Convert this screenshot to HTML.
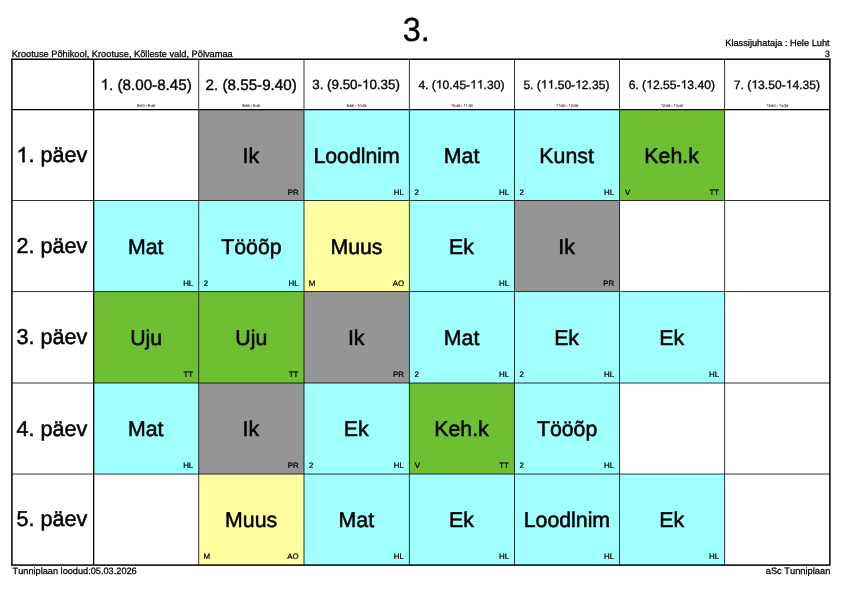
<!DOCTYPE html><html><head><meta charset="utf-8"><title>3.</title><style>html,body{margin:0;padding:0;background:#fff;width:841px;height:595px;overflow:hidden}svg{display:block;will-change:transform}text{font-family:"Liberation Sans",sans-serif;fill:#000;text-rendering:geometricPrecision;font-kerning:none}</style></head><body>
<svg width="841" height="595" viewBox="0 0 841 595">
<rect x="198.70" y="109.60" width="105.30" height="90.90" fill="#959595"/>
<rect x="304.00" y="109.60" width="105.40" height="90.90" fill="#a0ffff"/>
<rect x="409.40" y="109.60" width="105.10" height="90.90" fill="#a0ffff"/>
<rect x="514.50" y="109.60" width="105.00" height="90.90" fill="#a0ffff"/>
<rect x="619.50" y="109.60" width="105.10" height="90.90" fill="#6ebf32"/>
<rect x="93.65" y="200.50" width="105.05" height="91.05" fill="#a0ffff"/>
<rect x="198.70" y="200.50" width="105.30" height="91.05" fill="#a0ffff"/>
<rect x="304.00" y="200.50" width="105.40" height="91.05" fill="#ffffa0"/>
<rect x="409.40" y="200.50" width="105.10" height="91.05" fill="#a0ffff"/>
<rect x="514.50" y="200.50" width="105.00" height="91.05" fill="#959595"/>
<rect x="93.65" y="291.55" width="105.05" height="91.45" fill="#6ebf32"/>
<rect x="198.70" y="291.55" width="105.30" height="91.45" fill="#6ebf32"/>
<rect x="304.00" y="291.55" width="105.40" height="91.45" fill="#959595"/>
<rect x="409.40" y="291.55" width="105.10" height="91.45" fill="#a0ffff"/>
<rect x="514.50" y="291.55" width="105.00" height="91.45" fill="#a0ffff"/>
<rect x="619.50" y="291.55" width="105.10" height="91.45" fill="#a0ffff"/>
<rect x="93.65" y="383.00" width="105.05" height="91.05" fill="#a0ffff"/>
<rect x="198.70" y="383.00" width="105.30" height="91.05" fill="#959595"/>
<rect x="304.00" y="383.00" width="105.40" height="91.05" fill="#a0ffff"/>
<rect x="409.40" y="383.00" width="105.10" height="91.05" fill="#6ebf32"/>
<rect x="514.50" y="383.00" width="105.00" height="91.05" fill="#a0ffff"/>
<rect x="198.70" y="474.05" width="105.30" height="91.05" fill="#ffffa0"/>
<rect x="304.00" y="474.05" width="105.40" height="91.05" fill="#a0ffff"/>
<rect x="409.40" y="474.05" width="105.10" height="91.05" fill="#a0ffff"/>
<rect x="514.50" y="474.05" width="105.00" height="91.05" fill="#a0ffff"/>
<rect x="619.50" y="474.05" width="105.10" height="91.05" fill="#a0ffff"/>
<line x1="198.70" y1="59.25" x2="198.70" y2="565.10" stroke="#000" stroke-width="0.8"/>
<line x1="304.00" y1="59.25" x2="304.00" y2="565.10" stroke="#000" stroke-width="0.8"/>
<line x1="409.40" y1="59.25" x2="409.40" y2="565.10" stroke="#000" stroke-width="0.8"/>
<line x1="514.50" y1="59.25" x2="514.50" y2="565.10" stroke="#000" stroke-width="0.8"/>
<line x1="619.50" y1="59.25" x2="619.50" y2="565.10" stroke="#000" stroke-width="0.8"/>
<line x1="724.60" y1="59.25" x2="724.60" y2="565.10" stroke="#000" stroke-width="0.8"/>
<line x1="11.90" y1="200.50" x2="829.90" y2="200.50" stroke="#000" stroke-width="0.8"/>
<line x1="11.90" y1="291.55" x2="829.90" y2="291.55" stroke="#000" stroke-width="0.8"/>
<line x1="11.90" y1="383.00" x2="829.90" y2="383.00" stroke="#000" stroke-width="0.8"/>
<line x1="11.90" y1="474.05" x2="829.90" y2="474.05" stroke="#000" stroke-width="0.8"/>
<line x1="11.90" y1="109.60" x2="829.90" y2="109.60" stroke="#000" stroke-width="1.3"/>
<line x1="93.65" y1="59.25" x2="93.65" y2="565.10" stroke="#000" stroke-width="1.3"/>
<rect x="11.90" y="59.25" width="818.00" height="505.85" fill="none" stroke="#000" stroke-width="1.5"/>
<text x="100.60" y="89.58" font-size="15.2" stroke="#000" stroke-width="0.38"> . (8.00-8.45)</text>
<path transform="translate(100.60 89.58) scale(0.00742 -0.00742)" d="M583,0 L763,0 L763,1440 L646,1440 Q600,1350 500,1262 Q390,1165 223,1090 L223,920 Q310,952 410,1008 Q520,1070 583,1130 Z" stroke="#000" stroke-width="51.7"/>
<text x="137.21" y="106.50" font-size="3.75" stroke="#000" stroke-width="0.06">8:00 - 8:45</text>
<text x="205.60" y="89.58" font-size="15.2" stroke="#000" stroke-width="0.38">2. (8.55-9.40)</text>
<text x="242.38" y="106.50" font-size="3.75" stroke="#000" stroke-width="0.06">8:55 - 9:40</text>
<text x="312.25" y="88.95" font-size="13.37" stroke="#000" stroke-width="0.35">3. (9.50- 0.35)</text>
<path transform="translate(362.05 88.95) scale(0.00653 -0.00653)" d="M583,0 L763,0 L763,1440 L646,1440 Q600,1350 500,1262 Q390,1165 223,1090 L223,920 Q310,952 410,1008 Q520,1070 583,1130 Z" stroke="#000" stroke-width="53.2"/>
<text x="346.68" y="106.50" font-size="3.75" stroke="#000" stroke-width="0.06">9:50 -  0:35</text>
<path transform="translate(357.31 106.50) scale(0.00183 -0.00183)" d="M583,0 L763,0 L763,1440 L646,1440 Q600,1350 500,1262 Q390,1165 223,1090 L223,920 Q310,952 410,1008 Q520,1070 583,1130 Z" stroke="#000" stroke-width="32.8"/>
<text x="418.39" y="88.51" font-size="12.1" stroke="#000" stroke-width="0.32">4. ( 0.45-  .30)</text>
<path transform="translate(435.87 88.51) scale(0.00591 -0.00591)" d="M583,0 L763,0 L763,1440 L646,1440 Q600,1350 500,1262 Q390,1165 223,1090 L223,920 Q310,952 410,1008 Q520,1070 583,1130 Z" stroke="#000" stroke-width="54.5"/>
<path transform="translate(470.18 88.51) scale(0.00591 -0.00591)" d="M583,0 L763,0 L763,1440 L646,1440 Q600,1350 500,1262 Q390,1165 223,1090 L223,920 Q310,952 410,1008 Q520,1070 583,1130 Z" stroke="#000" stroke-width="54.5"/>
<path transform="translate(476.91 88.51) scale(0.00591 -0.00591)" d="M583,0 L763,0 L763,1440 L646,1440 Q600,1350 500,1262 Q390,1165 223,1090 L223,920 Q310,952 410,1008 Q520,1070 583,1130 Z" stroke="#000" stroke-width="54.5"/>
<text x="450.83" y="106.50" font-size="3.75" stroke="#000" stroke-width="0.06"> 0:45 -   :30</text>
<path transform="translate(450.83 106.50) scale(0.00183 -0.00183)" d="M583,0 L763,0 L763,1440 L646,1440 Q600,1350 500,1262 Q390,1165 223,1090 L223,920 Q310,952 410,1008 Q520,1070 583,1130 Z" stroke="#000" stroke-width="32.8"/>
<path transform="translate(463.55 106.50) scale(0.00183 -0.00183)" d="M583,0 L763,0 L763,1440 L646,1440 Q600,1350 500,1262 Q390,1165 223,1090 L223,920 Q310,952 410,1008 Q520,1070 583,1130 Z" stroke="#000" stroke-width="32.8"/>
<path transform="translate(465.63 106.50) scale(0.00183 -0.00183)" d="M583,0 L763,0 L763,1440 L646,1440 Q600,1350 500,1262 Q390,1165 223,1090 L223,920 Q310,952 410,1008 Q520,1070 583,1130 Z" stroke="#000" stroke-width="32.8"/>
<text x="523.39" y="88.51" font-size="12.1" stroke="#000" stroke-width="0.32">5. (  .50- 2.35)</text>
<path transform="translate(540.87 88.51) scale(0.00591 -0.00591)" d="M583,0 L763,0 L763,1440 L646,1440 Q600,1350 500,1262 Q390,1165 223,1090 L223,920 Q310,952 410,1008 Q520,1070 583,1130 Z" stroke="#000" stroke-width="54.5"/>
<path transform="translate(547.60 88.51) scale(0.00591 -0.00591)" d="M583,0 L763,0 L763,1440 L646,1440 Q600,1350 500,1262 Q390,1165 223,1090 L223,920 Q310,952 410,1008 Q520,1070 583,1130 Z" stroke="#000" stroke-width="54.5"/>
<path transform="translate(575.18 88.51) scale(0.00591 -0.00591)" d="M583,0 L763,0 L763,1440 L646,1440 Q600,1350 500,1262 Q390,1165 223,1090 L223,920 Q310,952 410,1008 Q520,1070 583,1130 Z" stroke="#000" stroke-width="54.5"/>
<text x="555.89" y="106.50" font-size="3.75" stroke="#000" stroke-width="0.06">  :50 -  2:35</text>
<path transform="translate(555.89 106.50) scale(0.00183 -0.00183)" d="M583,0 L763,0 L763,1440 L646,1440 Q600,1350 500,1262 Q390,1165 223,1090 L223,920 Q310,952 410,1008 Q520,1070 583,1130 Z" stroke="#000" stroke-width="32.8"/>
<path transform="translate(557.97 106.50) scale(0.00183 -0.00183)" d="M583,0 L763,0 L763,1440 L646,1440 Q600,1350 500,1262 Q390,1165 223,1090 L223,920 Q310,952 410,1008 Q520,1070 583,1130 Z" stroke="#000" stroke-width="32.8"/>
<path transform="translate(568.60 106.50) scale(0.00183 -0.00183)" d="M583,0 L763,0 L763,1440 L646,1440 Q600,1350 500,1262 Q390,1165 223,1090 L223,920 Q310,952 410,1008 Q520,1070 583,1130 Z" stroke="#000" stroke-width="32.8"/>
<text x="628.64" y="88.53" font-size="12.15" stroke="#000" stroke-width="0.32">6. ( 2.55- 3.40)</text>
<path transform="translate(646.19 88.53) scale(0.00593 -0.00593)" d="M583,0 L763,0 L763,1440 L646,1440 Q600,1350 500,1262 Q390,1165 223,1090 L223,920 Q310,952 410,1008 Q520,1070 583,1130 Z" stroke="#000" stroke-width="54.4"/>
<path transform="translate(680.64 88.53) scale(0.00593 -0.00593)" d="M583,0 L763,0 L763,1440 L646,1440 Q600,1350 500,1262 Q390,1165 223,1090 L223,920 Q310,952 410,1008 Q520,1070 583,1130 Z" stroke="#000" stroke-width="54.4"/>
<text x="660.93" y="106.50" font-size="3.75" stroke="#000" stroke-width="0.06"> 2:55 -  3:40</text>
<path transform="translate(660.93 106.50) scale(0.00183 -0.00183)" d="M583,0 L763,0 L763,1440 L646,1440 Q600,1350 500,1262 Q390,1165 223,1090 L223,920 Q310,952 410,1008 Q520,1070 583,1130 Z" stroke="#000" stroke-width="32.8"/>
<path transform="translate(673.65 106.50) scale(0.00183 -0.00183)" d="M583,0 L763,0 L763,1440 L646,1440 Q600,1350 500,1262 Q390,1165 223,1090 L223,920 Q310,952 410,1008 Q520,1070 583,1130 Z" stroke="#000" stroke-width="32.8"/>
<text x="733.85" y="88.52" font-size="12.12" stroke="#000" stroke-width="0.32">7. ( 3.50- 4.35)</text>
<path transform="translate(751.36 88.52) scale(0.00592 -0.00592)" d="M583,0 L763,0 L763,1440 L646,1440 Q600,1350 500,1262 Q390,1165 223,1090 L223,920 Q310,952 410,1008 Q520,1070 583,1130 Z" stroke="#000" stroke-width="54.5"/>
<path transform="translate(785.72 88.52) scale(0.00592 -0.00592)" d="M583,0 L763,0 L763,1440 L646,1440 Q600,1350 500,1262 Q390,1165 223,1090 L223,920 Q310,952 410,1008 Q520,1070 583,1130 Z" stroke="#000" stroke-width="54.5"/>
<text x="766.14" y="106.50" font-size="3.75" stroke="#000" stroke-width="0.06"> 3:50 -  4:35</text>
<path transform="translate(766.14 106.50) scale(0.00183 -0.00183)" d="M583,0 L763,0 L763,1440 L646,1440 Q600,1350 500,1262 Q390,1165 223,1090 L223,920 Q310,952 410,1008 Q520,1070 583,1130 Z" stroke="#000" stroke-width="32.8"/>
<path transform="translate(778.85 106.50) scale(0.00183 -0.00183)" d="M583,0 L763,0 L763,1440 L646,1440 Q600,1350 500,1262 Q390,1165 223,1090 L223,920 Q310,952 410,1008 Q520,1070 583,1130 Z" stroke="#000" stroke-width="32.8"/>
<text x="16.41" y="162.20" font-size="21.6" stroke="#000" stroke-width="0.51"> . päev</text>
<path transform="translate(16.41 162.20) scale(0.01055 -0.01055)" d="M583,0 L763,0 L763,1440 L646,1440 Q600,1350 500,1262 Q390,1165 223,1090 L223,920 Q310,952 410,1008 Q520,1070 583,1130 Z" stroke="#000" stroke-width="48.5"/>
<text x="16.41" y="253.18" font-size="21.6" stroke="#000" stroke-width="0.51">2. päev</text>
<text x="16.41" y="344.42" font-size="21.6" stroke="#000" stroke-width="0.51">3. päev</text>
<text x="16.41" y="435.67" font-size="21.6" stroke="#000" stroke-width="0.51">4. päev</text>
<text x="16.41" y="526.43" font-size="21.6" stroke="#000" stroke-width="0.51">5. päev</text>
<text x="242.57" y="162.75" font-size="21.3" stroke="#000" stroke-width="0.51">Ik</text>
<text x="287.67" y="194.70" font-size="7.9" stroke="#000" stroke-width="0.24">PR</text>
<text x="313.40" y="162.75" font-size="21.3" stroke="#000" stroke-width="0.51">Loodlnim</text>
<text x="393.84" y="194.70" font-size="7.9" stroke="#000" stroke-width="0.24">HL</text>
<text x="443.80" y="162.75" font-size="21.3" stroke="#000" stroke-width="0.51">Mat</text>
<text x="414.42" y="194.70" font-size="7.9" stroke="#000" stroke-width="0.24">2</text>
<text x="498.94" y="194.70" font-size="7.9" stroke="#000" stroke-width="0.24">HL</text>
<text x="539.37" y="162.75" font-size="21.3" stroke="#000" stroke-width="0.51">Kunst</text>
<text x="519.52" y="194.70" font-size="7.9" stroke="#000" stroke-width="0.24">2</text>
<text x="603.94" y="194.70" font-size="7.9" stroke="#000" stroke-width="0.24">HL</text>
<text x="644.37" y="162.75" font-size="21.3" stroke="#000" stroke-width="0.51">Keh.k</text>
<text x="624.88" y="194.70" font-size="7.9" stroke="#000" stroke-width="0.24">V</text>
<text x="709.41" y="194.70" font-size="7.9" stroke="#000" stroke-width="0.24">TT</text>
<text x="128.02" y="253.72" font-size="21.3" stroke="#000" stroke-width="0.51">Mat</text>
<text x="183.14" y="285.75" font-size="7.9" stroke="#000" stroke-width="0.24">HL</text>
<text x="221.26" y="253.72" font-size="21.3" stroke="#000" stroke-width="0.51">Tööõp</text>
<text x="203.72" y="285.75" font-size="7.9" stroke="#000" stroke-width="0.24">2</text>
<text x="288.44" y="285.75" font-size="7.9" stroke="#000" stroke-width="0.24">HL</text>
<text x="330.41" y="253.72" font-size="21.3" stroke="#000" stroke-width="0.51">Muus</text>
<text x="308.77" y="285.75" font-size="7.9" stroke="#000" stroke-width="0.24">M</text>
<text x="392.64" y="285.75" font-size="7.9" stroke="#000" stroke-width="0.24">AO</text>
<text x="449.08" y="253.72" font-size="21.3" stroke="#000" stroke-width="0.51">Ek</text>
<text x="498.94" y="285.75" font-size="7.9" stroke="#000" stroke-width="0.24">HL</text>
<text x="558.22" y="253.72" font-size="21.3" stroke="#000" stroke-width="0.51">Ik</text>
<text x="603.17" y="285.75" font-size="7.9" stroke="#000" stroke-width="0.24">PR</text>
<text x="130.14" y="344.97" font-size="21.3" stroke="#000" stroke-width="0.51">Uju</text>
<text x="183.51" y="376.80" font-size="7.9" stroke="#000" stroke-width="0.24">TT</text>
<text x="235.31" y="344.97" font-size="21.3" stroke="#000" stroke-width="0.51">Uju</text>
<text x="288.81" y="376.80" font-size="7.9" stroke="#000" stroke-width="0.24">TT</text>
<text x="347.92" y="344.97" font-size="21.3" stroke="#000" stroke-width="0.51">Ik</text>
<text x="393.07" y="376.80" font-size="7.9" stroke="#000" stroke-width="0.24">PR</text>
<text x="443.80" y="344.97" font-size="21.3" stroke="#000" stroke-width="0.51">Mat</text>
<text x="414.42" y="376.80" font-size="7.9" stroke="#000" stroke-width="0.24">2</text>
<text x="498.94" y="376.80" font-size="7.9" stroke="#000" stroke-width="0.24">HL</text>
<text x="554.13" y="344.97" font-size="21.3" stroke="#000" stroke-width="0.51">Ek</text>
<text x="519.52" y="376.80" font-size="7.9" stroke="#000" stroke-width="0.24">2</text>
<text x="603.94" y="376.80" font-size="7.9" stroke="#000" stroke-width="0.24">HL</text>
<text x="659.18" y="344.97" font-size="21.3" stroke="#000" stroke-width="0.51">Ek</text>
<text x="709.04" y="376.80" font-size="7.9" stroke="#000" stroke-width="0.24">HL</text>
<text x="128.02" y="436.22" font-size="21.3" stroke="#000" stroke-width="0.51">Mat</text>
<text x="183.14" y="467.85" font-size="7.9" stroke="#000" stroke-width="0.24">HL</text>
<text x="242.57" y="436.22" font-size="21.3" stroke="#000" stroke-width="0.51">Ik</text>
<text x="287.67" y="467.85" font-size="7.9" stroke="#000" stroke-width="0.24">PR</text>
<text x="343.83" y="436.22" font-size="21.3" stroke="#000" stroke-width="0.51">Ek</text>
<text x="309.02" y="467.85" font-size="7.9" stroke="#000" stroke-width="0.24">2</text>
<text x="393.84" y="467.85" font-size="7.9" stroke="#000" stroke-width="0.24">HL</text>
<text x="434.27" y="436.22" font-size="21.3" stroke="#000" stroke-width="0.51">Keh.k</text>
<text x="414.78" y="467.85" font-size="7.9" stroke="#000" stroke-width="0.24">V</text>
<text x="499.31" y="467.85" font-size="7.9" stroke="#000" stroke-width="0.24">TT</text>
<text x="536.91" y="436.22" font-size="21.3" stroke="#000" stroke-width="0.51">Tööõp</text>
<text x="519.52" y="467.85" font-size="7.9" stroke="#000" stroke-width="0.24">2</text>
<text x="603.94" y="467.85" font-size="7.9" stroke="#000" stroke-width="0.24">HL</text>
<text x="225.06" y="527.28" font-size="21.3" stroke="#000" stroke-width="0.51">Muus</text>
<text x="203.47" y="558.90" font-size="7.9" stroke="#000" stroke-width="0.24">M</text>
<text x="287.24" y="558.90" font-size="7.9" stroke="#000" stroke-width="0.24">AO</text>
<text x="338.55" y="527.28" font-size="21.3" stroke="#000" stroke-width="0.51">Mat</text>
<text x="393.84" y="558.90" font-size="7.9" stroke="#000" stroke-width="0.24">HL</text>
<text x="449.08" y="527.28" font-size="21.3" stroke="#000" stroke-width="0.51">Ek</text>
<text x="498.94" y="558.90" font-size="7.9" stroke="#000" stroke-width="0.24">HL</text>
<text x="523.70" y="527.28" font-size="21.3" stroke="#000" stroke-width="0.51">Loodlnim</text>
<text x="603.94" y="558.90" font-size="7.9" stroke="#000" stroke-width="0.24">HL</text>
<text x="659.18" y="527.28" font-size="21.3" stroke="#000" stroke-width="0.51">Ek</text>
<text x="709.04" y="558.90" font-size="7.9" stroke="#000" stroke-width="0.24">HL</text>
<text transform="translate(402.64 40.70) scale(0.969 1.0)" font-size="33.5" stroke="#000" stroke-width="0.35">3.</text>
<text x="11.65" y="56.70" font-size="9.25" stroke="#000" stroke-width="0.27">Krootuse Põhikool, Krootuse, Kõlleste vald, Põlvamaa</text>
<text x="725.25" y="45.90" font-size="9.25" stroke="#000" stroke-width="0.27">Klassijuhataja : Hele Luht</text>
<text x="824.83" y="56.60" font-size="9.25" stroke="#000" stroke-width="0.27">3</text>
<text x="12.59" y="573.65" font-size="9.2" stroke="#000" stroke-width="0.26">Tunniplaan loodud:05.03.2026</text>
<text x="765.74" y="573.65" font-size="9.3" stroke="#000" stroke-width="0.27">aSc Tunniplaan</text>
</svg></body></html>
